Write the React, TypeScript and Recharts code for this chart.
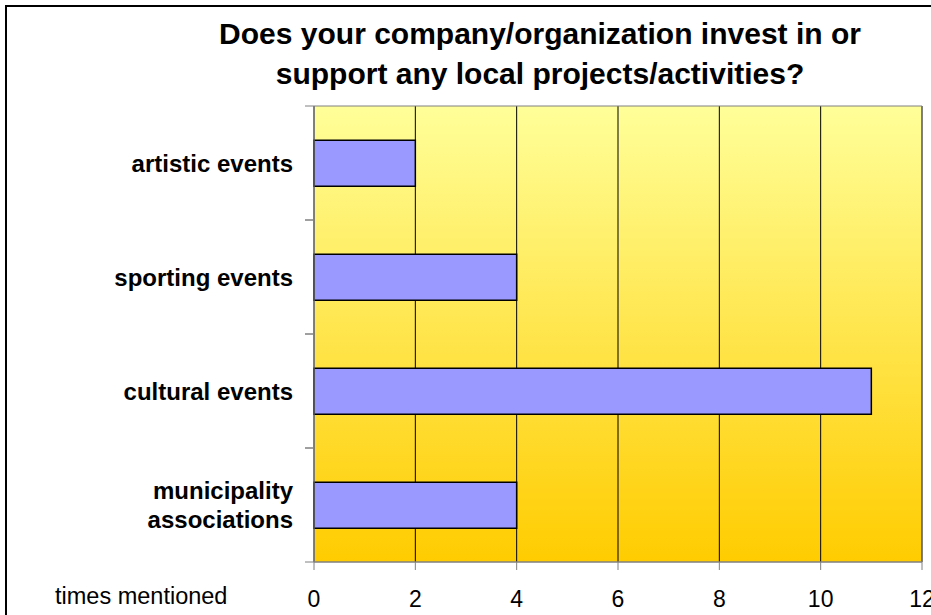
import { BarChart, Bar, XAxis, YAxis, CartesianGrid, ReferenceArea } from "recharts"

const categories = ["artistic events", "sporting events", "cultural events", "municipality\nassociations"]
const counts = [2, 4, 11, 4]
const xTicks = [0, 2, 4, 6, 8, 10, 12]
const titleLines = ["Does your company/organization invest in or", "support any local projects/activities?"]

const data = categories.map((name, i) => ({ name, count: counts[i] }))

const FONT = "'Liberation Sans', Arial, sans-serif"

function CategoryTick(props: any) {
  const { x, y, payload } = props
  const half = payload.offset || 57
  const lines = String(payload.value).split("\n")
  const lh = 29
  const start = y - ((lines.length - 1) * lh) / 2
  return (
    <g>
      <line x1={x - 9} x2={x} y1={y - half} y2={y - half} stroke="#808080" />
      <line x1={x - 9} x2={x} y1={y + half} y2={y + half} stroke="#808080" />
      {lines.map((l, i) => (
        <text
          key={i}
          x={x - 21}
          y={start + i * lh}
          dy="0.36em"
          textAnchor="end"
          fontFamily={FONT}
          fontWeight="bold"
          fontSize={24}
          fill="#000"
        >
          {l}
        </text>
      ))}
    </g>
  )
}

export default function App() {
  return (
    <div style={{ position: "relative", width: 931, height: 615, overflow: "hidden", background: "#fff" }}>
      <style>{`body{margin:0}`}</style>
      <div
        style={{
          position: "absolute",
          left: 5,
          top: 5,
          width: 940,
          height: 620,
          border: "2px solid #000",
          boxSizing: "border-box",
        }}
      />
      <div style={{ position: "absolute", left: 0, top: 0 }}>
        <BarChart
          width={931}
          height={615}
          data={data}
          layout="vertical"
          barCategoryGap="30%"
          margin={{ top: 106, right: 9, bottom: 8, left: 14 }}
        >
          <defs>
            <linearGradient id="bg" x1="0" y1="0" x2="0" y2="1">
              <stop offset="0%" stopColor="#FFFF99" />
              <stop offset="100%" stopColor="#FFCC00" />
            </linearGradient>
          </defs>
          <CartesianGrid horizontal={false} stroke="#000" fill="url(#bg)" fillOpacity={1} />
          <ReferenceArea x1={0} x2={12} fill="none" stroke="#808080" strokeWidth={1} />
          <XAxis
            type="number"
            domain={[0, 12]}
            ticks={xTicks}
            interval={0}
            height={45}
            tickSize={8}
            tickMargin={21}
            axisLine={{ stroke: "#808080" }}
            tickLine={{ stroke: "#808080" }}
            tick={{ fill: "#000", fontSize: 23, fontFamily: FONT }}
          />
          <YAxis
            type="category"
            dataKey="name"
            width={300}
            tickSize={0}
            tickMargin={0}
            tickLine={false}
            axisLine={{ stroke: "#808080" }}
            tick={<CategoryTick />}
            interval={0}
          />
          <Bar dataKey="count" fill="#9999FF" stroke="#000" strokeWidth={1.5} isAnimationActive={false} />
          {titleLines.map((t, i) => (
            <text
              key={t}
              x={540}
              y={33 + i * 40}
              dy="0.36em"
              textAnchor="middle"
              fontFamily={FONT}
              fontWeight="bold"
              fontSize={30}
              fill="#000"
            >
              {t}
            </text>
          ))}
          <text x={55} y={596} dy="0.36em" fontFamily={FONT} fontSize={23.5} fill="#000">
            times mentioned
          </text>
        </BarChart>
      </div>
    </div>
  )
}
